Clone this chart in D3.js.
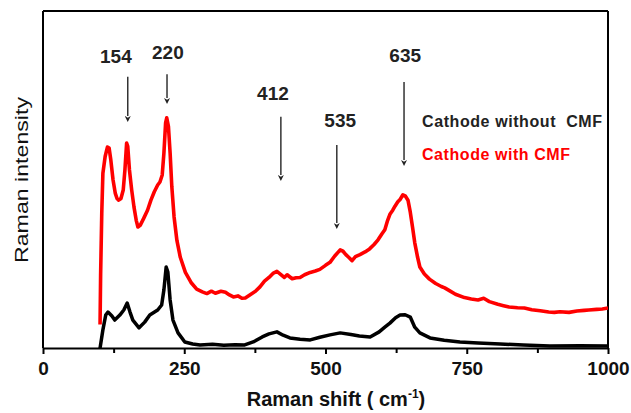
<!DOCTYPE html>
<html lang="en">
<head>
  <meta charset="UTF-8" />
  <title>Raman spectra</title>
  <script src="https://d3js.org/d3.v7.min.js"></script>
  <style>
    body {
      margin: 0;
      padding: 0;
      background-color: white;
    }
    svg {
      display: block;
      font-family: "Liberation Sans", Arial, sans-serif;
    }
    .axis text {
      font-size: 19px;
      font-weight: bold;
      fill: #111;
    }
    .axis path, .axis line {
      stroke: #000;
      stroke-width: 2px;
    }
    .peak-label {
      font-size: 19px;
      font-weight: bold;
      fill: #222;
      text-anchor: middle;
    }
    .arrow {
      stroke: #333;
      stroke-width: 1.5px;
    }
  </style>
</head>
<body>
  <svg id="chart" width="631" height="413"></svg>

  <script>
    // Red spectrum (cathode with CMF): [Raman shift, intensity a.u.]
    const redSpectrum = [
      [101, 7], [102, 22], [104, 40], [106, 52], [110, 57], [114, 59.8], [117, 59.5], [120, 56],
      [124, 50], [128, 46], [131, 44.5], [134, 44], [138, 44.5], [142, 47], [145, 53], [148, 61],
      [150, 60], [153, 53], [157, 47], [161, 42], [165, 38], [168, 36], [172, 36.5], [178, 38.5],
      [185, 41], [191, 44], [197, 46.5], [203, 48.5], [207, 49.4], [211, 51.5], [214, 58], [217, 67],
      [219, 68.5], [222, 66], [225, 58], [228, 48], [232, 39], [237, 32], [243, 27], [252, 22.5],
      [262, 19.5], [272, 17.5], [282, 16.7], [290, 16.2], [298, 16.9], [305, 16.3], [315, 16.9],
      [323, 16.6], [330, 15.8], [337, 15.2], [345, 15.5], [352, 14.8], [358, 14.9], [366, 15.8],
      [376, 16.9], [384, 18.2], [392, 19.9], [400, 21], [407, 22.2], [414, 22.8], [420, 22],
      [427, 21], [432, 21.8], [441, 20.6], [448, 20.9], [455, 21], [463, 21.8], [473, 22.5],
      [482, 22.9], [490, 23.4], [500, 24.6], [508, 25.5], [516, 27.3], [526, 29.2], [531, 28.8],
      [536, 27.8], [541, 27], [547, 26], [553, 27.2], [561, 27.8], [570, 28.6], [578, 29.5],
      [586, 30.8], [593, 32.2], [600, 34], [605, 35.2], [610, 38], [614, 39.8], [619, 41],
      [623, 42.2], [628, 43.5], [632, 44.2], [637, 45.6], [641, 45.3], [646, 44], [650, 40.5],
      [654, 36], [658, 31.3], [663, 27], [667, 24.1], [675, 22], [684, 20.5], [695, 19.2],
      [705, 18.3], [711, 17.9], [720, 17], [730, 16], [746, 15], [758, 14.6], [770, 14.3],
      [780, 14.8], [790, 13.8], [805, 13], [815, 12.6], [825, 12.2], [840, 12], [852, 11.9],
      [865, 11.4], [880, 11.1], [895, 10.7], [905, 10.6], [915, 10.8], [931, 10.6], [945, 11],
      [958, 11.2], [966, 11.3], [980, 11.5], [990, 11.6], [1000, 11.9]
    ];

    // Black spectrum (cathode without CMF)
    const blackSpectrum = [
      [99, -1], [101, 0], [106, 5.4], [111, 9.8], [115, 10.7], [122, 9.5], [127, 8.3], [136, 9.8],
      [143, 11.3], [149, 13.4], [154, 10.7], [159, 8.3], [170, 6], [180, 7.7], [189, 9.8],
      [203, 11.3], [210, 12.8], [214, 17.3], [218, 24.1], [221, 22.6], [225, 14.3], [230, 8.3],
      [239, 4.5], [251, 1.8], [265, 1.2], [278, 0.9], [300, 1.1], [320, 0.8], [340, 1],
      [357, 0.9], [372, 1.8], [388, 3.3], [400, 4.2], [414, 4.8], [425, 3.8], [437, 3],
      [455, 2.6], [473, 2.4], [490, 3.2], [508, 3.9], [526, 4.5], [545, 4], [560, 3.6],
      [579, 3.3], [595, 4.8], [605, 6.2], [614, 7.4], [624, 9], [632, 9.8], [641, 9.9],
      [650, 9.2], [658, 6.2], [667, 4.5], [685, 3], [710, 2.3], [738, 1.8], [770, 1.5],
      [809, 1.2], [850, 0.9], [897, 0.6], [950, 0.7], [1000, 0.6]
    ];

    // Peak annotations: label, label position, arrow start and tip
    const peakLabels = ["154", "220", "412", "535", "635"];
    const labelX = [129, 221, 407, 526, 641];
    const labelY = [84.8, 86, 73.8, 65.8, 85.1];
    const arrowX = [150, 219.5, 421, 520, 639];
    const arrowTop = [80.7, 81.5, 68.8, 60.4, 79.2];
    const arrowTip = [67, 72.3, 49.4, 35.1, 53.9];

    const xTicks = [0, 250, 500, 750, 1000];
    const xMinorTicks = [125, 375, 625, 875];
    const legendItems = ["Cathode without  CMF", "Cathode with CMF"];
    const legendColors = ["#222", "#ff0000"];

    const svg = d3.select("#chart");
    const plotLeft = 43, plotRight = 608, plotTop = 11, plotBottom = 348;

    const x = d3.scaleLinear().domain([0, 1000]).range([plotLeft, plotRight]);
    const y = d3.scaleLinear().domain([0, 100]).range([plotBottom, 12]);

    const defs = svg.append("defs");
    defs.append("clipPath").attr("id", "plot-clip")
      .append("rect")
      .attr("x", plotLeft).attr("y", plotTop)
      .attr("width", plotRight - plotLeft).attr("height", plotBottom - plotTop);

    const marker = defs.append("marker")
      .attr("id", "arrowhead")
      .attr("viewBox", "0 0 10 10")
      .attr("refX", 5).attr("refY", 0)
      .attr("markerUnits", "userSpaceOnUse")
      .attr("markerWidth", 6).attr("markerHeight", 7)
      .attr("orient", "0");
    marker.append("path").attr("d", "M0,0 L5,3 L10,0 L5,10 Z").attr("fill", "#222");

    // Frame lines
    const frame = svg.append("g").attr("stroke", "#000").attr("stroke-width", 2);
    frame.append("line").attr("x1", plotLeft).attr("x2", plotRight).attr("y1", plotTop).attr("y2", plotTop);
    frame.append("line").attr("x1", plotRight).attr("x2", plotRight).attr("y1", plotTop).attr("y2", plotBottom);
    frame.append("line").attr("x1", plotLeft).attr("x2", plotLeft).attr("y1", plotTop).attr("y2", plotBottom);

    // Minor ticks
    svg.append("g")
      .attr("class", "axis")
      .attr("transform", `translate(0,${plotBottom})`)
      .call(d3.axisBottom(x).tickValues(xMinorTicks).tickSize(5).tickFormat(""))
      .call(g => g.select(".domain").remove());

    // Major axis
    svg.append("g")
      .attr("class", "axis")
      .attr("transform", `translate(0,${plotBottom})`)
      .call(d3.axisBottom(x).tickValues(xTicks).tickSize(6).tickSizeOuter(0).tickPadding(8).tickFormat(d3.format("d")));

    // Spectra
    const line = d3.line().x(d => x(d[0])).y(d => y(d[1]));
    const plot = svg.append("g").attr("clip-path", "url(#plot-clip)");

    plot.append("path")
      .datum(blackSpectrum)
      .attr("fill", "none")
      .attr("stroke", "#000")
      .attr("stroke-width", 3.5)
      .attr("stroke-linejoin", "round")
      .attr("d", line);

    plot.append("path")
      .datum(redSpectrum)
      .attr("fill", "none")
      .attr("stroke", "#ff0000")
      .attr("stroke-width", 3.6)
      .attr("stroke-linejoin", "round")
      .attr("d", line);

    // Peak arrows and labels
    peakLabels.forEach((label, i) => {
      svg.append("line")
        .attr("class", "arrow")
        .attr("x1", x(arrowX[i])).attr("x2", x(arrowX[i]))
        .attr("y1", y(arrowTop[i])).attr("y2", y(arrowTip[i]) - 7)
        .attr("marker-end", "url(#arrowhead)");
      svg.append("text")
        .attr("class", "peak-label")
        .attr("x", x(labelX[i]))
        .attr("y", y(labelY[i]))
        .text(label);
    });

    // Legend
    const legendWidths = [180, 148];
    legendItems.forEach((item, i) => {
      svg.append("text")
        .attr("x", 422)
        .attr("y", 127 + i * 33)
        .attr("font-size", 16)
        .attr("font-weight", "bold")
        .attr("fill", legendColors[i])
        .attr("textLength", legendWidths[i])
        .attr("lengthAdjust", "spacing")
        .style("white-space", "pre")
        .text(item);
    });

    // Axis titles
    const xTitle = svg.append("text")
      .attr("x", 336)
      .attr("y", 406)
      .attr("text-anchor", "middle")
      .attr("font-size", 20)
      .attr("font-weight", "bold")
      .attr("fill", "#111");
    xTitle.append("tspan").text("Raman shift ( cm");
    xTitle.append("tspan").attr("font-size", 12).attr("dy", -8).text("-1");
    xTitle.append("tspan").attr("dy", 8).text(")");

    svg.append("text")
      .attr("transform", "translate(28,180) rotate(-90)")
      .attr("text-anchor", "middle")
      .attr("font-size", 19)
      .attr("fill", "#111")
      .attr("textLength", 166)
      .attr("lengthAdjust", "spacingAndGlyphs")
      .text("Raman intensity");
  </script>
</body>
</html>
